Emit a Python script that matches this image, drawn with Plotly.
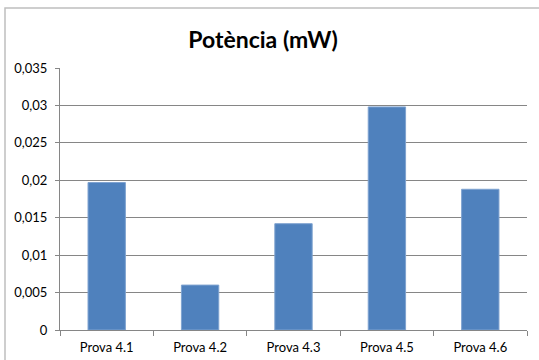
import plotly.graph_objects as go

categories = ["Prova 4.1", "Prova 4.2", "Prova 4.3", "Prova 4.5", "Prova 4.6"]
potencia = [0.0197, 0.0060, 0.0142, 0.0298, 0.0188]
y_ticks = [0, 0.005, 0.01, 0.015, 0.02, 0.025, 0.03, 0.035]

L, R, T, B = 60, 12, 68, 30
W, H = 539, 360
pw, ph = W - L - R, H - T - B

fig = go.Figure(go.Bar(
    x=categories, y=potencia,
    marker=dict(color="#4F81BD", line=dict(color="#7FA3D0", width=1)),
    width=0.4,
))

def px_x(px):
    return (px - L) / pw

def px_y(py):
    return (H - B - py) / ph

FONT = "Lato, Open Sans, sans-serif"
fig.update_layout(
    width=W, height=H,
    margin=dict(l=L, r=R, t=T, b=B, autoexpand=False),
    paper_bgcolor="white", plot_bgcolor="white",
    separators=",.",
    showlegend=False,
    font=dict(family=FONT, size=13, color="#000000"),
    title=dict(text="<b>Potència (mW)</b>", x=263 / W, xanchor="center",
               y=1 - 40 / H, yanchor="middle",
               font=dict(size=23, color="#000000", family=FONT)),
    xaxis=dict(showline=True, linecolor="#868686", linewidth=1, automargin=False,
               ticks="outside", ticklen=5, tickcolor="#868686", tickson="boundaries",
               ticklabelstandoff=5,
               showgrid=False, tickfont=dict(size=13)),
    yaxis=dict(range=[0, 0.035], tickvals=y_ticks, tickformat=".3~f", automargin=False,
               showline=True, linecolor="#868686", linewidth=1,
               ticks="outside", ticklen=4, tickcolor="#868686",
               ticklabelstandoff=5,
               showgrid=True, gridcolor="#868686", gridwidth=1,
               zeroline=False, tickfont=dict(size=13)),
    shapes=[dict(type="rect", xref="paper", yref="paper",
                 x0=px_x(5), x1=px_x(548), y0=px_y(8), y1=px_y(370),
                 line=dict(color="#BFBFBF", width=1.5), fillcolor="rgba(0,0,0,0)",
                 layer="below")],
)

fig.write_html("out.html", config={"displayModeBar": False},
               post_script="document.body.style.margin='0';document.body.style.overflow='hidden';")
